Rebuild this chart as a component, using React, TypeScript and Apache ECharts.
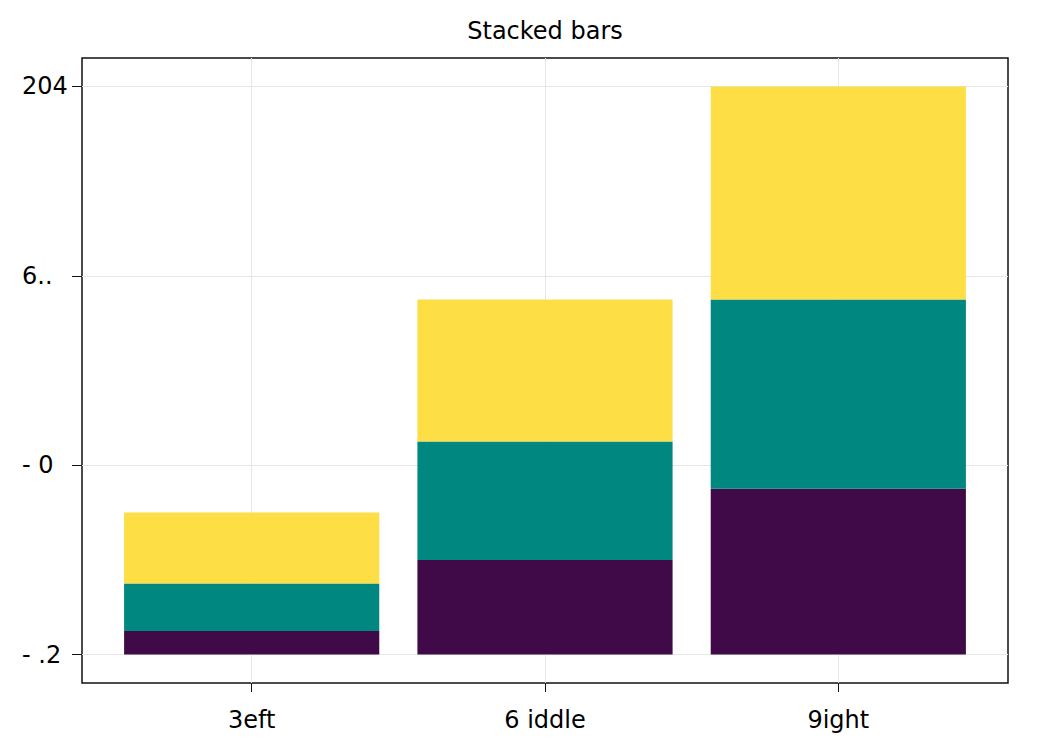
import React, { useEffect, useRef } from "react";
import * as echarts from "echarts";

const categories = [1, 2, 3];
const categoryLabels = ["3eft", "6 iddle", "9ight"];
const yTickValues = [0, 8, 16, 24];
const yTickLabels = ["- .2", "- 0", "6..", "204"];
const bottomValues = [1, 4, 7];
const middleValues = [2, 5, 8];
const topValues = [3, 6, 9];
const seriesColors = ["#3f0a47", "#008780", "#fdde45"];
const barWidthUnits = 0.87;

export default function App() {
  const ref = useRef<HTMLDivElement>(null);
  useEffect(() => {
    document.body.style.margin = "0";
    const chart = echarts.init(ref.current!, null, { renderer: "svg" });
    const font = "DejaVu Sans";
    const layers = [bottomValues, middleValues, topValues];
    const base = categories.map(() => 0);
    const series = layers.map((vals, i) => {
      const data = categories.map((c, k) => {
        const start = base[k];
        const end = start + vals[k];
        base[k] = end;
        return [c, start, end];
      });
      return {
        type: "custom",
        data,
        encode: { x: 0, y: [1, 2] },
        renderItem: (params: any, api: any) => {
          const x = api.value(0);
          const s = api.value(1);
          const e = api.value(2);
          const p0 = api.coord([x - barWidthUnits / 2, s]);
          const p1 = api.coord([x + barWidthUnits / 2, e]);
          return {
            type: "rect",
            shape: { x: p0[0], y: p1[1], width: p1[0] - p0[0], height: p0[1] - p1[1] },
            style: { fill: seriesColors[i] },
          };
        },
      };
    });
    chart.setOption({
      animation: false,
      title: {
        text: "Stacked bars",
        left: 545,
        textAlign: "center",
        top: 19,
        padding: 0,
        textStyle: { fontFamily: font, fontSize: 24, fontWeight: "normal", color: "#000" },
      },
      grid: {
        left: 82,
        top: 58,
        width: 926,
        height: 625,
        show: true,
        borderColor: "#111",
        borderWidth: 1.5,
        containLabel: false,
      },
      xAxis: {
        type: "value",
        min: 0.4215,
        max: 3.5785,
        axisLine: { show: false, onZero: false },
        axisTick: { show: true, length: 9, customValues: categories, lineStyle: { color: "#111" } },
        axisLabel: {
          customValues: categories,
          margin: 25,
          fontFamily: font,
          fontSize: 24,
          color: "#000",
          formatter: (v: number) => categoryLabels[categories.indexOf(Math.round(v))] ?? "",
        },
        splitLine: { show: true, lineStyle: { color: "#e6e6e6", width: 1 } },
      },
      yAxis: {
        type: "value",
        min: -1.2,
        max: 25.2,
        axisLine: { show: false, onZero: false },
        axisTick: { show: true, length: 10, customValues: yTickValues, lineStyle: { color: "#111" } },
        axisLabel: {
          customValues: yTickValues,
          align: "left",
          margin: 60,
          fontFamily: font,
          fontSize: 24,
          color: "#000",
          formatter: (v: number) => yTickLabels[yTickValues.indexOf(Math.round(v))] ?? "",
        },
        splitLine: { show: true, lineStyle: { color: "#e6e6e6", width: 1 } },
      },
      series,
    });
    return () => chart.dispose();
  }, []);
  return <div ref={ref} style={{ position: "absolute", left: 0, top: 0, width: 1038, height: 756 }} />;
}
